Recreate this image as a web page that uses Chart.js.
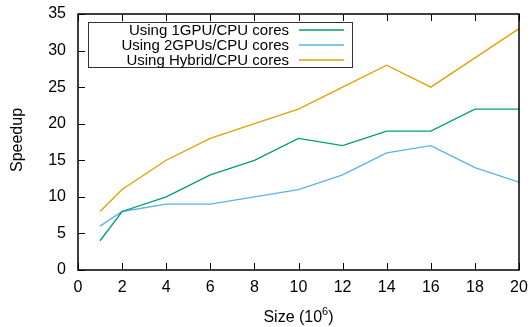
<!DOCTYPE html>
<html>
<head>
<meta charset="utf-8">
<script src="https://cdn.jsdelivr.net/npm/chart.js@4/dist/chart.umd.min.js"></script>
<style>
  html, body { margin: 0; padding: 0; background: #fff; }
  #wrap { width: 531px; height: 327px; }
</style>
</head>
<body>
<div id="wrap"><canvas id="speedupChart"></canvas></div>
<script>
// Problem sizes (millions) and measured speedups
const sizes = [1, 2, 4, 6, 8, 10, 12, 14, 16, 18, 20];
const oneGpu = [4, 8, 10, 13, 15, 18, 17, 19, 19, 22, 22];
const twoGpus = [6, 8, 9, 9, 10, 11, 13, 16, 17, 14, 12];
const hybrid = [8, 11, 15, 18, 20, 22, 25, 28, 25, 29, 33];

const seriesLabels = ["Using 1GPU/CPU cores", "Using 2GPUs/CPU cores", "Using Hybrid/CPU cores"];
const seriesColors = ["#009e73", "#56b4e9", "#e69f00"];

const FONT = "'Liberation Sans', Arial, Helvetica, sans-serif";

function points(values) {
    return sizes.map((s, i) => ({ x: s, y: values[i] }));
}

// Frame, inward tick marks, axis titles and the boxed key
const gnuplotFrame = {
    id: "gnuplotFrame",
    afterDatasetsDraw(chart) {
        const c = chart.ctx;
        const a = chart.chartArea;
        const xs = chart.scales.x;
        const ys = chart.scales.y;
        const tl = 7;

        c.save();
        c.strokeStyle = "#000";
        c.lineWidth = 1;
        c.beginPath();
        xs.ticks.forEach(t => {
            const px = Math.round(xs.getPixelForValue(t.value)) + 0.5;
            c.moveTo(px, a.bottom);
            c.lineTo(px, a.bottom - tl);
            c.moveTo(px, a.top);
            c.lineTo(px, a.top + tl);
        });
        ys.ticks.forEach(t => {
            const py = Math.round(ys.getPixelForValue(t.value)) + 0.5;
            c.moveTo(a.left, py);
            c.lineTo(a.left + tl, py);
        });
        c.stroke();

        c.lineWidth = 1.5;
        c.strokeRect(a.left, a.top, a.right - a.left, a.bottom - a.top);

        // y axis title
        c.fillStyle = "#000";
        c.font = "16px " + FONT;
        c.save();
        c.translate(22, 140);
        c.rotate(-Math.PI / 2);
        c.textAlign = "center";
        c.textBaseline = "alphabetic";
        c.fillText("Speedup", 0, 0);
        c.restore();

        // x axis title with superscript exponent
        const main = "Size (10";
        c.font = "16px " + FONT;
        const w1 = c.measureText(main).width;
        const w3 = c.measureText(")").width;
        c.font = "11px " + FONT;
        const w2 = c.measureText("6").width;
        const cx = (a.left + a.right) / 2;
        let x0 = cx - (w1 + w2 + w3) / 2;
        const base = 321.5;
        c.textAlign = "left";
        c.textBaseline = "alphabetic";
        c.font = "16px " + FONT;
        c.fillText(main, x0, base);
        c.font = "11px " + FONT;
        c.fillText("6", x0 + w1, base - 7);
        c.font = "16px " + FONT;
        c.fillText(")", x0 + w1 + w2, base);

        // key box
        c.fillStyle = "#fff";
        c.fillRect(88.5, 22.5, 264, 45);
        c.lineWidth = 1;
        c.strokeStyle = "#333";
        c.strokeRect(88.5, 22.5, 264, 45);
        c.font = "15px " + FONT;
        c.textAlign = "right";
        c.textBaseline = "middle";
        chart.data.datasets.forEach((ds, i) => {
            const y = 30 + i * 15;
            c.fillStyle = "#000";
            c.fillText(ds.label, 289, y + 1);
            c.strokeStyle = ds.borderColor;
            c.lineWidth = 1.3;
            c.beginPath();
            c.moveTo(299, y);
            c.lineTo(344, y);
            c.stroke();
        });
        c.restore();
    }
};

const ctx = document.getElementById("speedupChart");
new Chart(ctx, {
    type: "line",
    data: {
        datasets: [oneGpu, twoGpus, hybrid].map((vals, i) => ({
            label: seriesLabels[i],
            data: points(vals),
            borderColor: seriesColors[i],
            backgroundColor: seriesColors[i],
            borderWidth: 1.3,
            pointRadius: 0,
            tension: 0,
            fill: false
        }))
    },
    options: {
        responsive: true,
        maintainAspectRatio: false,
        animation: false,
        events: [],
        layout: { padding: { top: 14, right: 12, left: 0, bottom: 0 } },
        plugins: {
            legend: { display: false },
            tooltip: { enabled: false }
        },
        scales: {
            x: {
                type: "linear",
                min: 0,
                max: 20,
                grid: { display: false, drawTicks: false },
                border: { display: false },
                ticks: {
                    stepSize: 2,
                    padding: 8,
                    color: "#000",
                    font: { family: FONT, size: 16 },
                    maxRotation: 0
                },
                afterFit(scale) {
                    scale.height = 57;
                    scale.paddingLeft = 0;
                    scale.paddingRight = 0;
                }
            },
            y: {
                min: 0,
                max: 35,
                grid: { display: false, drawTicks: false },
                border: { display: false },
                ticks: {
                    stepSize: 5,
                    padding: 12,
                    color: "#000",
                    font: { family: FONT, size: 16 }
                },
                afterFit(scale) {
                    scale.width = 78;
                    scale.paddingTop = 0;
                    scale.paddingBottom = 0;
                }
            }
        }
    },
    plugins: [gnuplotFrame]
});
</script>
</body>
</html>
